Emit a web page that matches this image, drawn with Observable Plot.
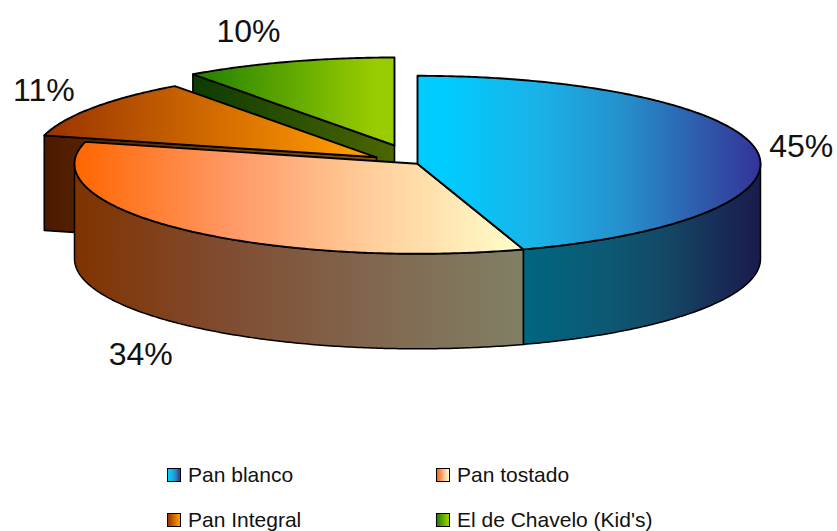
<!DOCTYPE html>
<html lang="es">
<head>
<meta charset="utf-8">
<script src="https://cdn.jsdelivr.net/npm/d3@7"></script>
<script src="https://cdn.jsdelivr.net/npm/@observablehq/plot@0.6"></script>
<style>
  html, body { margin: 0; padding: 0; background: #fff; overflow: hidden; }
  #chart { position: relative; width: 837px; height: 531px; font-family: "Liberation Sans", Arial, sans-serif; }
  #chart svg { display: block; }
  .legend-item { position: absolute; display: flex; align-items: center; font-size: 21px; color: #111; white-space: nowrap; line-height: 24px; }
  .legend-swatch { box-sizing: border-box; width: 14px; height: 14px; border: 1.6px solid #000; margin-right: 7px; }
</style>
</head>
<body>
<div id="chart"></div>
<script>
// Consumo de pan por tipo, en porcentaje
const categories = ["Pan blanco", "Pan tostado", "Pan Integral", "El de Chavelo (Kid's)"];
const shares = [45, 34, 11, 10];

// Gradient stops of each wedge's top face and wall: [offset %, colour]
const topStops = [
  [[0, "#00ccff"], [8, "#00ccff"], [35, "#1ab2e8"], [60, "#2590cc"], [85, "#3055a8"], [100, "#333399"]],
  [[0, "#ff6600"], [35, "#ff9966"], [65, "#ffcc99"], [100, "#ffffcc"]],
  [[0, "#993300"], [92, "#ff9900"], [100, "#ff9900"]],
  [[0, "#1f7f00"], [90, "#99cc00"], [100, "#99cc00"]]
];
const sideStops = [
  [[0, "#006680"], [35, "#0d5974"], [60, "#134866"], [85, "#182a55"], [100, "#1a1a4d"]],
  [[0, "#803300"], [35, "#804d33"], [65, "#80664d"], [100, "#808066"]],
  [[0, "#4d1a00"], [100, "#8a5a00"]],
  [[0, "#0c3c00"], [100, "#4d6600"]]
];

// Pie layout in the chart's units
const pieCenter = [417, 163.3];
const radiusX = 343;
const radiusBack = 88;
const radiusFront = 90;
const depth = 95;
const explode = [[0, 0], [0, 0], [-41, -6.5], [-23, -18.3]];
const labelOffsets = [[45, -3], [-42, 125], [-49, -17], [-40, -30]];
const legendSlots = [[167, 463], [436, 463], [167, 508], [436, 508]];

const total = d3.sum(shares);
const cumulative = d3.cumsum(shares);
const toAngle = (v) => (v / total) * 2 * Math.PI;
const slices = shares.map((v, i) => ({
  name: categories[i],
  value: v,
  start: toAngle(cumulative[i] - v),
  end: toAngle(cumulative[i]),
  cx: pieCenter[0] + explode[i][0],
  cy: pieCenter[1] + explode[i][1]
}));

// Point on the rim of a wedge; angles run clockwise from twelve o'clock
function rim(s, a, drop = 0) {
  const c = Math.cos(a);
  return {x: s.cx + radiusX * Math.sin(a), y: s.cy - (c > 0 ? radiusBack : radiusFront) * c + drop};
}
function arc(s, a0, a1, drop = 0) {
  const n = Math.max(2, Math.ceil(Math.abs(a1 - a0) / 0.01));
  return d3.range(n + 1).map((k) => rim(s, a0 + ((a1 - a0) * k) / n, drop));
}
const topFace = (s) => [{x: s.cx, y: s.cy}, ...arc(s, s.start, s.end)];
const wall = (s, a0, a1) => [...arc(s, a0, a1), ...arc(s, a1, a0, depth)];
const cutFace = (s) => {
  const p = rim(s, s.start);
  const apex = {x: s.cx, y: s.cy};
  return [p, apex, {x: apex.x, y: apex.y + depth}, {x: p.x, y: p.y + depth}];
};

const outline = {x: "x", y: "y", curve: "linear-closed", stroke: "#000", strokeLinejoin: "round"};
const face = (points, id, strokeWidth) => Plot.line(points, {...outline, fill: `url(#${id})`, strokeWidth});

// Horizontal gradients used by the faces
function gradients() {
  const defs = d3.create("svg:defs");
  const add = (id, stops) => {
    const g = defs.append("linearGradient").attr("id", id).attr("x1", 0).attr("x2", 1).attr("y1", 0).attr("y2", 0);
    stops.forEach(([o, c]) => g.append("stop").attr("offset", `${o}%`).attr("stop-color", c));
  };
  topStops.forEach((s, i) => add(`top${i}`, s));
  sideStops.forEach((s, i) => add(`side${i}`, s));
  return defs.node();
}

const [blanco, tostado, integral, chavelo] = slices;

const labels = slices.map((s, i) => {
  const p = rim(s, (s.start + s.end) / 2);
  return {text: `${s.value}%`, x: p.x + labelOffsets[i][0], y: p.y + labelOffsets[i][1]};
});

const plot = Plot.plot({
  width: 837,
  height: 460,
  margin: 0,
  x: {type: "linear", domain: [0, 837], range: [0, 837], axis: null},
  y: {type: "linear", domain: [0, 460], range: [0, 460], axis: null},
  style: {background: "#fff", fontFamily: "Liberation Sans, Arial, sans-serif"},
  marks: [
    gradients,
    // Back wedges first, the two front wedges over them
    face(cutFace(chavelo), "side3", 1.6),
    face(topFace(chavelo), "top3", 1.9),
    face(cutFace(integral), "side2", 1.6),
    face(topFace(integral), "top2", 1.9),
    face(wall(tostado, tostado.start, 1.5 * Math.PI), "side1", 1.5),
    face(topFace(tostado), "top1", 1.9),
    face(wall(blanco, 0.5 * Math.PI, blanco.end), "side0", 1.5),
    face(topFace(blanco), "top0", 1.9),
    Plot.text(labels, {
      x: "x",
      y: "y",
      text: "text",
      fontSize: 32,
      fill: "#111",
      textAnchor: "middle",
      lineAnchor: "middle"
    })
  ]
});

const chart = document.getElementById("chart");
chart.append(plot);

// Two-column legend under the pie
categories.forEach((name, i) => {
  const item = document.createElement("div");
  item.className = "legend-item";
  item.style.left = `${legendSlots[i][0]}px`;
  item.style.top = `${legendSlots[i][1]}px`;
  const swatch = document.createElement("span");
  swatch.className = "legend-swatch";
  const stops = topStops[i].map(([o, c]) => `${c} ${o}%`).join(", ");
  swatch.style.background = `linear-gradient(to right, ${stops})`;
  const label = document.createElement("span");
  label.textContent = name;
  item.append(swatch, label);
  chart.append(item);
});
</script>
</body>
</html>
